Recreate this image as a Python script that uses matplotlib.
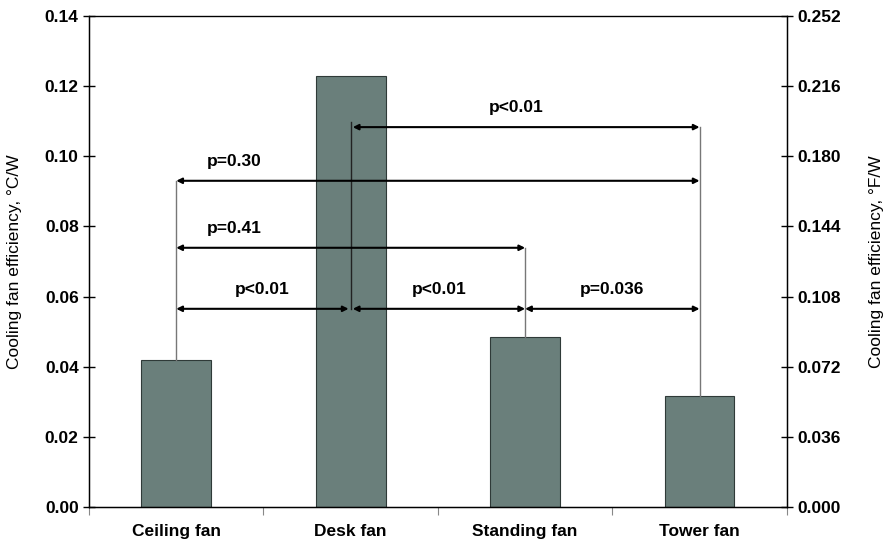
import matplotlib.pyplot as plt
import numpy as np

plt.rcParams["font.family"] = ["Liberation Sans", "DejaVu Sans"]

categories = ["Ceiling fan", "Desk fan", "Standing fan", "Tower fan"]
efficiency = [0.0419, 0.1229, 0.0485, 0.0317]  # degC/W

# comparisons: (from index, to index, bracket height, label)
comparisons = [
    (0, 1, 0.0565, "p<0.01"),
    (1, 2, 0.0565, "p<0.01"),
    (2, 3, 0.0565, "p=0.036"),
    (0, 2, 0.0739, "p=0.41"),
    (0, 3, 0.0930, "p=0.30"),
    (1, 3, 0.1083, "p<0.01"),
]

fig = plt.figure(figsize=(8.86, 5.42), dpi=100)
ax = fig.add_axes([0.1005, 0.0646, 0.7875, 0.906])

x = np.arange(len(categories))
ax.bar(x, efficiency, width=0.4, color="#6a7f7b", edgecolor="#2f3a38", linewidth=0.8, zorder=2)

ax.set_xlim(-0.5, len(categories) - 0.5)
ax.set_ylim(0, 0.14)
ax.set_yticks(np.arange(0, 0.141, 0.02))
ax.set_yticklabels(["%.2f" % v for v in np.arange(0, 0.141, 0.02)], fontweight="bold", fontsize=12.5)
ax.tick_params(axis="y", direction="inout", length=8, width=1)

ax.set_xticks(np.arange(-0.5, len(categories), 1.0))
ax.set_xticklabels([])
ax.tick_params(axis="x", direction="out", length=6, width=0.8, color="#888888")
ax.set_xticks(x, minor=True)
ax.set_xticklabels(categories, minor=True, fontweight="bold", fontsize=12.5)
ax.tick_params(axis="x", which="minor", length=0, pad=12)

ax.set_ylabel("Cooling fan efficiency, \u00b0C/W", fontsize=12.5, labelpad=16)
for sp in ax.spines.values():
    sp.set_linewidth(1)
ax.spines["top"].set_color("#555555")

# vertical lines linking bars to brackets
tops = {}
for i, j, h, lab in comparisons:
    tops[i] = max(tops.get(i, 0), h)
    tops[j] = max(tops.get(j, 0), h)
for k, t in tops.items():
    lo = efficiency[k] if efficiency[k] < t else comparisons[0][2]
    hi = t + 0.0015 if k == 1 else t
    ax.plot([k, k], [lo, hi], color="#222222" if k == 1 else "#777777", lw=1, zorder=3)

gap = 0.012
for i, j, h, lab in comparisons:
    x0 = i + (gap if i == 1 else 0)
    x1 = j - (gap if j == 1 else 0)
    ax.annotate("", xy=(x1, h), xytext=(x0, h),
                arrowprops=dict(arrowstyle="<|-|>", color="black", lw=1.5,
                                mutation_scale=8, shrinkA=0, shrinkB=0), zorder=4)
    if j - i == 1:
        tx = (x0 + x1) / 2
    elif i == 1:
        tx = (i + j) / 2 - 0.05
    else:
        tx = i + 0.33
    ax.text(tx, h + 0.0035, lab, ha="center", va="bottom", fontsize=12.5, fontweight="bold")

ax2 = ax.twinx()
ax2.set_ylim(0, 0.14 * 1.8)
ticks2 = np.arange(0, 0.2521, 0.036)
ax2.set_yticks(ticks2)
ax2.set_yticklabels(["%.3f" % v for v in ticks2], fontweight="bold", fontsize=12.5)
ax2.tick_params(axis="y", direction="inout", length=8, width=1)
ax2.set_ylabel("Cooling fan efficiency, \u00b0F/W", fontsize=12.5, labelpad=20)

fig.savefig("out.png", dpi=100)
